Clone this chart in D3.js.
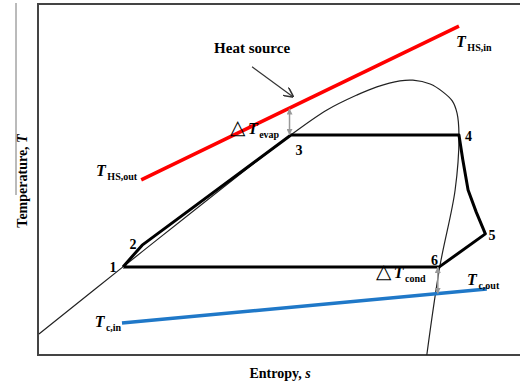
<!DOCTYPE html>
<html>
<head>
<meta charset="utf-8">
<script src="https://cdn.jsdelivr.net/npm/d3@7"></script>
<style>
  html, body { margin: 0; padding: 0; background: #fff; }
  svg { display: block; }
  text { font-family: "Liberation Serif", "Times New Roman", serif; font-weight: bold; fill: #000; }
</style>
</head>
<body>
<svg id="chart" width="520" height="385"></svg>
<script>
// T-s diagram, arbitrary units (0-100 on both axes)

// heat pump / ORC cycle 1-2-3-4-5-6-1
const cycleS = [17.7, 21.7, 52.7, 87.7, 88.5, 89.6, 91.3, 93.2, 83.6, 17.7];
const cycleT = [25.1, 31.3, 62.7, 62.7, 55.6, 47.0, 40.7, 34.5, 25.1, 25.1];

// saturation dome
const domeS = [0.2, 17.7, 52.7, 60.2, 66.5, 70.6, 75.4, 78.1, 81.7, 84.4, 86.3, 87.3, 87.7, 86.9, 83.7, 81.0];
const domeT = [6.0, 25.1, 62.7, 69.8, 74.1, 76.4, 78.1, 78.3, 77.2, 74.9, 72.4, 68.9, 62.7, 47.0, 25.1, 0.0];

// heat source (red) and cooling water (blue) lines
const hsS = [21.5, 87.7];
const hsT = [49.9, 93.7];
const cwS = [17.5, 93.5];
const cwT = [9.1, 18.8];

// state point labels
const ptNames = ["1", "2", "3", "4", "5", "6"];
const ptS = [15.6, 19.8, 54.4, 89.7, 94.6, 82.6];
const ptT = [25.0, 31.5, 58.4, 62.2, 34.0, 27.0];

// pinch arrows: s, T bottom, T top
const pinchS = [52.4, 83.3];
const pinchLo = [62.7, 17.5];
const pinchHi = [70.2, 25.1];

const svg = d3.select("#chart");
const x = d3.scaleLinear().domain([0, 100]).range([38, 518]);
const y = d3.scaleLinear().domain([0, 100]).range([355, 4]);

const line = d3.line().x(d => x(d[0])).y(d => y(d[1]));
const zip = (a, b) => a.map((v, i) => [v, b[i]]);

const defs = svg.append("defs");
defs.append("marker").attr("id", "arrBlack")
  .attr("viewBox", "0 -5 10 10").attr("refX", 9).attr("refY", 0)
  .attr("markerWidth", 10).attr("markerHeight", 10).attr("orient", "auto")
  .attr("markerUnits", "userSpaceOnUse")
  .append("path").attr("d", "M0,-5L10,0L0,5").attr("fill", "none")
  .attr("stroke", "#333").attr("stroke-width", 1.6);
defs.append("marker").attr("id", "arrGray")
  .attr("viewBox", "0 -5 10 10").attr("refX", 10).attr("refY", 0)
  .attr("markerWidth", 6).attr("markerHeight", 6).attr("orient", "auto-start-reverse")
  .attr("markerUnits", "userSpaceOnUse")
  .append("path").attr("d", "M0,-5L10,0L0,5Z").attr("fill", "#999");

// frame (left, top, bottom)
svg.append("path")
  .attr("d", `M520,${y(100)}H${x(0)}V${y(0)}H520`)
  .attr("fill", "none").attr("stroke", "#444").attr("stroke-width", 2);

// odd gray rule beside the y label
svg.append("line").attr("x1", 16).attr("x2", 16).attr("y1", 3).attr("y2", 195)
  .attr("stroke", "#777").attr("stroke-width", 1);

// dome
svg.append("path").datum(zip(domeS, domeT))
  .attr("d", d3.line().x(d => x(d[0])).y(d => y(d[1])).curve(d3.curveCatmullRom.alpha(0.5)))
  .attr("fill", "none").attr("stroke", "#222").attr("stroke-width", 1.2);

// heat source + coolant
svg.append("path").datum(zip(hsS, hsT)).attr("d", line)
  .attr("stroke", "#ff0000").attr("stroke-width", 3.5).attr("fill", "none");
svg.append("path").datum(zip(cwS, cwT)).attr("d", line)
  .attr("stroke", "#1f78c8").attr("stroke-width", 3.5).attr("fill", "none");

// cycle
svg.append("path").datum(zip(cycleS, cycleT)).attr("d", line)
  .attr("fill", "none").attr("stroke", "#000").attr("stroke-width", 3).attr("stroke-linejoin", "round");

// pinch arrows
pinchS.forEach((s, i) => {
  svg.append("line")
    .attr("x1", x(s)).attr("x2", x(s))
    .attr("y1", y(pinchLo[i])).attr("y2", y(pinchHi[i]))
    .attr("stroke", "#999").attr("stroke-width", 1.5)
    .attr("marker-start", "url(#arrGray)").attr("marker-end", "url(#arrGray)");
});

// heat source pointer
svg.append("line")
  .attr("x1", x(44.6)).attr("y1", y(82.1)).attr("x2", x(53.1)).attr("y2", y(73.6))
  .attr("stroke", "#333").attr("stroke-width", 1.2).attr("marker-end", "url(#arrBlack)");
svg.append("text").attr("x", x(44.6)).attr("y", y(86.0))
  .attr("text-anchor", "middle").attr("font-size", 15).text("Heat source");

// state labels
svg.selectAll(".pt").data(ptNames).join("text").attr("class", "pt")
  .attr("x", (d, i) => x(ptS[i])).attr("y", (d, i) => y(ptT[i]))
  .attr("text-anchor", "middle").attr("dominant-baseline", "central")
  .attr("font-size", 14).text(d => d);

// subscripted T labels
function tLabel(px, py, sub, prefix) {
  const t = svg.append("text").attr("x", px).attr("y", py).attr("font-size", 16);
  if (prefix) t.append("tspan").attr("font-family", "DejaVu Sans").attr("font-weight", "normal")
    .attr("font-size", 20).text("\u25B3");
  t.append("tspan").attr("font-style", "italic").attr("dx", prefix ? 2.5 : 0).text("T");
  t.append("tspan").attr("font-size", 10).attr("dx", 1.5).attr("dy", 4).text(sub);
}
tLabel(x(12.1), y(51.0), "HS,out");
tLabel(x(87.1), y(87.8), "HS,in");
tLabel(x(11.8), y(8.0), "c,in");
tLabel(x(89.4), y(20.0), "c,out");
tLabel(x(40.0), y(62.9), "evap", true);
tLabel(x(70.4), y(21.8), "cond", true);

// axis titles
const xt = svg.append("text").attr("x", 280).attr("y", 378)
  .attr("text-anchor", "middle").attr("font-size", 14);
xt.append("tspan").text("Entropy, ");
xt.append("tspan").attr("font-style", "italic").text("s");

const yt = svg.append("text").attr("transform", "translate(27,181) rotate(-90)")
  .attr("text-anchor", "middle").attr("font-size", 14);
yt.append("tspan").text("Temperature, ");
yt.append("tspan").attr("font-style", "italic").text("T");
</script>
</body>
</html>
